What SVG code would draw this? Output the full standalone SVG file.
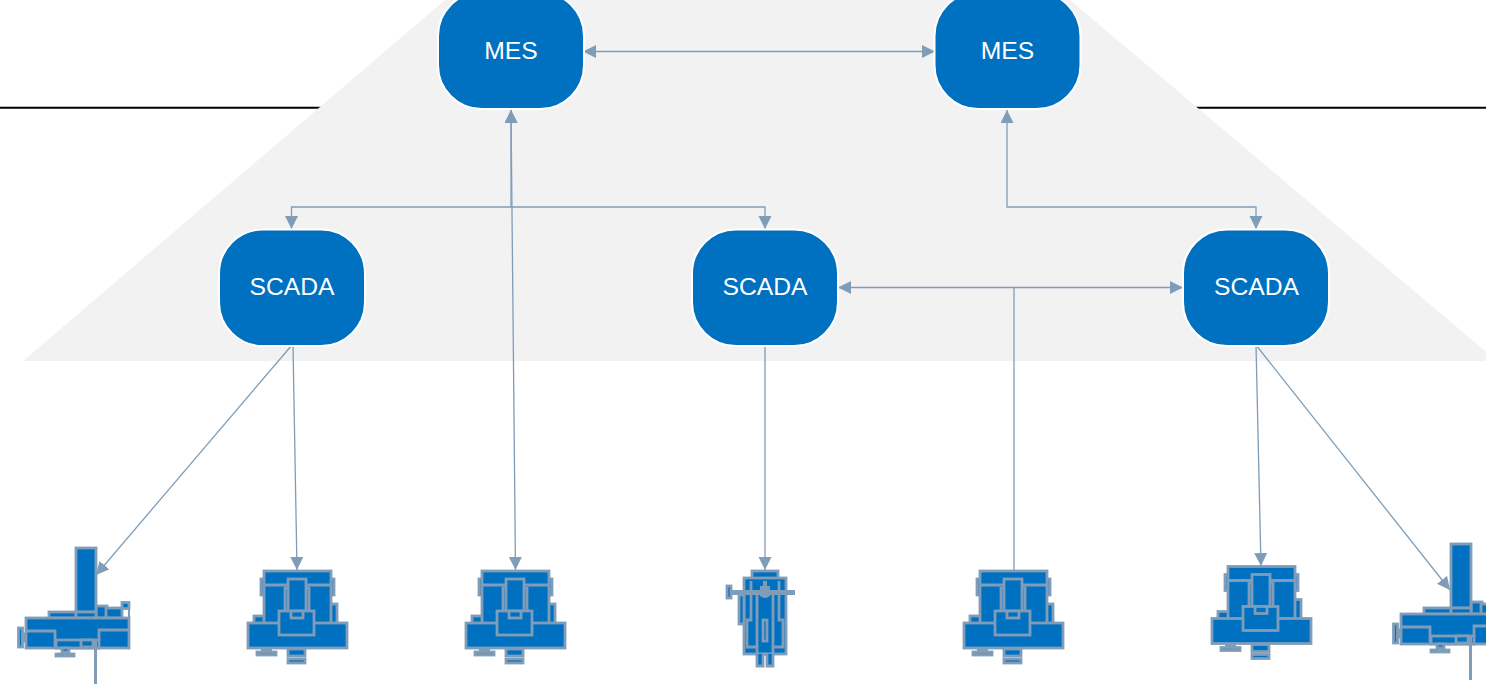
<svg xmlns="http://www.w3.org/2000/svg" xmlns:xlink="http://www.w3.org/1999/xlink" width="1486" height="684" viewBox="0 0 1486 684">
<style>
.n{fill:#0070c0;stroke:#fff;stroke-width:2}
.t{fill:#fff;font-family:"Liberation Sans",Arial,sans-serif;font-size:24.7px;text-anchor:middle}
.c{fill:none;stroke:#7f9db9;stroke-width:1.3;marker-end:url(#a)}
.b{marker-start:url(#a)}
.p{fill:none;stroke:#7f9db9;stroke-width:1.3}
.m{fill:#0070c0;stroke:#7f9db9;stroke-width:2.8}
.s{fill:#7f9db9;stroke:none}
</style>
<defs>
<marker id="a" markerUnits="userSpaceOnUse" markerWidth="14" markerHeight="14" refX="13" refY="6.500" orient="auto-start-reverse"><path d="M0 0L13 6.500L0 13Z" fill="#7f9db9"/></marker>
<g id="ma">
<rect class="m" x="261" y="579" width="3" height="16"/><rect class="m" x="331" y="579" width="3" height="16"/>
<rect class="m" x="254" y="616" width="12" height="8"/><rect class="m" x="330" y="604" width="7" height="20"/>
<rect class="m" x="264" y="571" width="67" height="53"/>
<path class="m" d="M264 585H331"/>
<rect class="m" x="285" y="588" width="24" height="24"/>
<rect class="m" x="288" y="579" width="18" height="34"/>
<rect class="m" x="248" y="623" width="99" height="25"/>
<rect class="m" x="279" y="611" width="35" height="24"/>
<rect class="m" x="291" y="611" width="12" height="7"/>
<rect class="m" x="257" y="652" width="19" height="3"/><path class="m" d="M261 650H272"/>
<rect class="m" x="288" y="649" width="17" height="7"/><rect class="m" x="288" y="659" width="17" height="4"/>
</g>
<g id="mb">
<rect class="m" x="18.500" y="628" width="4" height="19"/><rect class="m" x="23" y="634" width="2" height="7"/>
<rect class="m" x="49" y="612" width="27" height="6"/><rect class="m" x="96" y="606" width="11" height="12"/>
<rect class="m" x="106" y="608" width="16" height="10"/><rect class="m" x="122" y="602.500" width="7" height="6"/>
<rect class="s" x="128" y="603" width="2" height="16"/>
<rect class="m" x="76" y="548" width="20" height="64"/><rect class="m" x="76" y="612" width="20" height="6"/>
<rect class="m" x="26" y="618" width="103" height="30"/>
<path class="m" d="M26 631H55V648M129 630H99V640"/>
<rect class="m" x="56" y="640" width="43" height="8"/><rect class="m" x="81" y="640" width="12" height="7"/>
<rect class="m" x="62" y="648" width="7" height="4"/><rect class="m" x="56" y="654" width="18" height="2"/>
<rect class="s" x="94" y="639" width="3" height="45"/>
</g>
</defs>
<g id="background">
<path d="M0 107.700H1486" stroke="#000" stroke-width="2"/>
<path d="M23 361L445 0H1070L1497 361Z" fill="#f2f2f2"/>
</g>
<g id="connectors">
<path class="c b" d="M583 51.500H935"/>
<path class="c" d="M511 207V110"/>
<path class="c" d="M511 207H291.500V229"/>
<path class="c" d="M511 207H765V229"/>
<path class="c b" d="M511 110L515.500 570"/>
<path class="c b" d="M1007 110V207H1256V229"/>
<path class="c b" d="M838 287.500H1183"/>
<path class="p" d="M1014 287.500V570"/>
<path class="c" d="M292 345L96 575"/>
<path class="c" d="M293 345L297 570"/>
<path class="c" d="M765 345V570"/>
<path class="c" d="M1256 345L1261 566"/>
<path class="c" d="M1256 345L1450 590"/>
</g>
<g id="mes1"><rect class="n" x="438" y="-8" width="146" height="117" rx="44"/><text class="t" x="511" y="59">MES</text></g>
<g id="mes2"><rect class="n" x="934.500" y="-8" width="146" height="117" rx="44"/><text class="t" x="1007.500" y="59">MES</text></g>
<g id="scada1"><rect class="n" x="219" y="229.500" width="146" height="116.500" rx="44"/><text class="t" x="292" y="295">SCADA</text></g>
<g id="scada2"><rect class="n" x="692" y="229.500" width="146" height="116.500" rx="44"/><text class="t" x="765" y="295">SCADA</text></g>
<g id="scada3"><rect class="n" x="1183" y="229.500" width="146" height="116.500" rx="44"/><text class="t" x="1256.500" y="295">SCADA</text></g>
<g id="machine1"><use xlink:href="#mb" href="#mb"/></g>
<g id="machine2"><use href="#ma"/></g>
<g id="machine3"><use href="#ma" x="218"/></g>
<g id="machine4">
<rect class="m" x="752" y="571" width="26" height="10"/>
<rect class="m" x="744" y="578" width="42" height="76"/>
<rect class="m" x="739" y="595" width="5" height="29"/>
<path class="m" d="M751 581V620H747V647H757V654H773V647H783V620H779V581"/>
<path class="m" d="M757 647V590M773 647V590"/>
<rect class="m" x="763" y="620" width="4" height="21"/>
<path class="m" d="M757 654V666H763V655Q765 653 767 655V666H773V654"/>
<rect class="m" x="727" y="586" width="4" height="12"/>
<path class="s" d="M763 581H767V586H770V596Q765 600 760 596V586H763Z"/>
<rect class="s" x="731" y="590" width="64" height="5"/>
</g>
<g id="machine5"><use href="#ma" x="716"/></g>
<g id="machine6"><use href="#ma" x="964" y="-4.500"/></g>
<g id="machine7"><use href="#mb" x="1375" y="-4"/></g>
</svg>
